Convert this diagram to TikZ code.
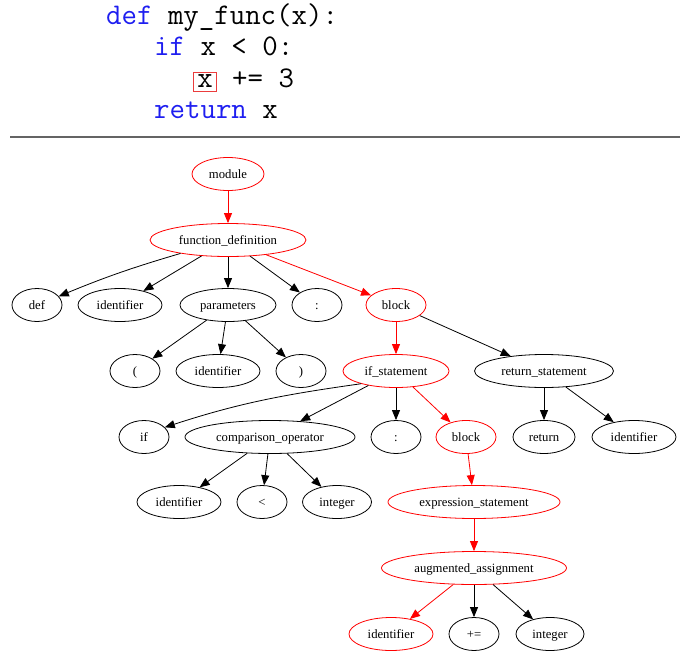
\documentclass[tikz,border=0pt]{standalone}
\usepackage{fontspec}
\setmainfont{Liberation Serif}
\usetikzlibrary{shapes.geometric,arrows.meta}
\definecolor{kwblue}{RGB}{30,30,240}
\definecolor{rulegray}{RGB}{100,100,100}
\definecolor{boxred}{RGB}{235,60,60}

\begin{document}
\begin{tikzpicture}[x=1pt,y=1pt,
    ast/.style={ellipse, draw, line width=0.8pt, minimum height=33pt, inner sep=0pt,
      text height=10pt, text depth=2pt, font=\fontsize{12.7}{15}\selectfont},
    hit/.style={ast, draw=red},
    wd/.style={minimum width=#1pt},
    code/.style={anchor=base west, inner sep=0pt, font=\ttfamily\fontsize{30}{34}\selectfont},
    link/.style={-{Triangle[length=10pt,width=8pt]}, line width=0.8pt},
    hotlink/.style={link, red}]
  \useasboundingbox (0,0) rectangle (686,-654);

  % source code
  \path
    (106,-24) node[code] (l1) {\textcolor{kwblue}{def} my\_func(x):}
    (154,-55.5) node[code] (l2) {\textcolor{kwblue}{if} x < 0:}
    (193,-87) node[code, draw=boxred, line width=0.8pt, inner xsep=4pt, inner ysep=2pt,
      text height=13pt, text depth=2pt] (x3) {x}
    (232,-87) node[code] (l3) {+= 3}
    (154,-118.5) node[code] (l4) {\textcolor{kwblue}{return} x};
  \draw[rulegray, line width=1.5pt] (10,-137) -- (680,-137);

  % syntax tree
  \draw
    (228,-174) node[hit, wd=72] (module){module}
    (228,-240) node[hit, wd=156] (fdef){function\_definition}
    (37,-305) node[ast, wd=50] (def){def}
    (120,-305) node[ast, wd=84] (fname){identifier}
    (228,-305) node[ast, wd=96] (params){parameters}
    (317,-305) node[ast, wd=50] (fcolon){:}
    (396,-305) node[hit, wd=60] (fbody){block}
    (135,-371) node[ast, wd=50] (lpar){(}
    (218,-371) node[ast, wd=84] (pname){identifier}
    (301,-371) node[ast, wd=50] (rpar){)}
    (396,-371) node[hit, wd=106] (ifst){if\_statement}
    (544,-371) node[ast, wd=139] (retst){return\_statement}
    (144,-437) node[ast, wd=50] (kif){if}
    (270,-437) node[ast, wd=170] (cmp){comparison\_operator}
    (396,-437) node[ast, wd=50] (icolon){:}
    (466,-437) node[hit, wd=60] (ibody){block}
    (544,-437) node[ast, wd=62] (kret){return}
    (634,-437) node[ast, wd=84] (rname){identifier}
    (179,-502) node[ast, wd=84] (lhs){identifier}
    (262,-502) node[ast, wd=50] (lt){<}
    (337,-502) node[ast, wd=69] (rhs){integer}
    (474,-502) node[hit, wd=172] (exst){expression\_statement}
    (474,-568) node[hit, wd=185] (aug){augmented\_assignment}
    (391,-634) node[hit, wd=84] (target){identifier}
    (474,-634) node[ast, wd=50] (pluseq){+=}
    (550,-634) node[ast, wd=68] (val){integer};

  \begin{scope}[link]
    \draw (fdef) to[bend right=3] (def);
    \draw (fdef) to (fname);
    \draw (fdef) to (params);
    \draw (fdef) to (fcolon);
    \draw (params) to (lpar);
    \draw (params) to (pname);
    \draw (params) to (rpar);
    \draw (fbody) to (retst);
    \draw (ifst.200) to[out=188, in=18] (kif.25);
    \draw (ifst) to (cmp);
    \draw (ifst) to (icolon);
    \draw (retst) to (kret);
    \draw (retst) to (rname);
    \draw (cmp) to (lhs);
    \draw (cmp) to (lt);
    \draw (cmp) to (rhs);
    \draw (aug) to (pluseq);
    \draw (aug) to (val);
  \end{scope}
  \begin{scope}[hotlink]
    \draw (module) to (fdef);
    \draw (fdef) to (fbody);
    \draw (fbody) to (ifst);
    \draw (ifst) to (ibody);
    \draw (ibody) to (exst);
    \draw (exst) to (aug);
    \draw (aug) to (target);
  \end{scope}
\end{tikzpicture}
\end{document}
